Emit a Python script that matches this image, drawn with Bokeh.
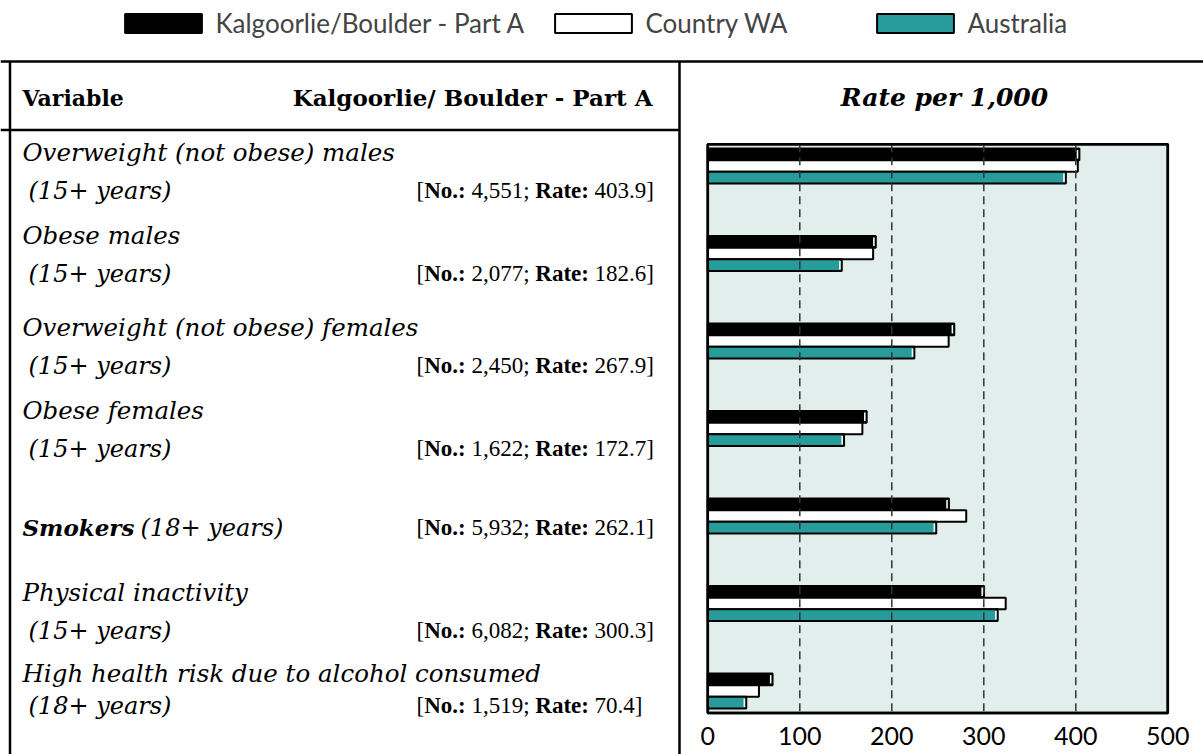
from bokeh.plotting import figure
from bokeh.models import Range1d, LinearAxis, FixedTicker, Legend, LegendItem
from bokeh.core.properties import value
from bokeh.embed import file_html
from bokeh.resources import INLINE

# ---------------- data ----------------
categories = ["Overweight (not obese) males", "Obese males",
              "Overweight (not obese) females", "Obese females",
              "Smokers", "Physical inactivity",
              "High health risk due to alcohol consumed"]
age_groups = ["(15+ years)", "(15+ years)", "(15+ years)", "(15+ years)",
              "(18+ years)", "(15+ years)", "(18+ years)"]
inline_age = [False, False, False, False, True, False, False]
numbers = ["4,551", "2,077", "2,450", "1,622", "5,932", "6,082", "1,519"]
kalgoorlie = [403.9, 182.6, 267.9, 172.7, 262.1, 300.3, 70.4]
country_wa = [402.2, 179.7, 261.8, 168.0, 280.9, 323.8, 55.6]
australia = [389.2, 145.6, 224.5, 148.1, 248.3, 315.1, 41.8]
series_names = ["Kalgoorlie/Boulder - Part A", "Country WA", "Australia"]
ticks = [0, 100, 200, 300, 400, 500]
header_variable = "Variable"
header_area = "Kalgoorlie/ Boulder - Part A"
header_rate = "Rate per 1,000"

# ---------------- styles / layout ----------------
colors = ["#000000", "#ffffff", "#279c9b"]
BG = "#e2eeeb"
SERIF = "DejaVu Serif"
W, H = 1203, 754
n = len(categories)
pad = 0.25
bh = 0.134

# pixel geometry of the bar panel
x0_px, x500_px = 707.3, 1167.3
y0_px, ystep_px = 165.5, 87.5
pxu = (x500_px - x0_px) / ticks[-1]

# text baselines of the table rows (pixels)
title_base = [152, 235, 327, 410, 527, 592, 673]
sub_base = [190, 273, 365, 448, 527, 630, 705]

p = figure(width=W, height=H, output_backend="svg", toolbar_location=None,
           x_range=Range1d(0, W), y_range=Range1d(H, 0),
           x_axis_location=None, y_axis_location=None, min_border=0,
           outline_line_color=None, background_fill_color="white",
           border_fill_color="white")
p.grid.visible = False

p.extra_x_ranges = {"rate": Range1d(-x0_px / pxu, ticks[-1] + (W - x500_px) / pxu)}
p.extra_y_ranges = {"cat": Range1d((H - y0_px) / ystep_px, -y0_px / ystep_px)}
RR = dict(x_range_name="rate", y_range_name="cat")

# plot panel background
p.quad(left=[ticks[0]], right=[ticks[-1]], top=[-pad], bottom=[n - 1 + pad],
       fill_color=BG, line_color="black", line_width=2.5, **RR)

# bars
renderers = []
for k, vals in enumerate([kalgoorlie, country_wa, australia]):
    ys = [i + (k - 1) * bh for i in range(n)]
    r = p.hbar(y=ys, left=0, right=vals, height=bh, fill_color=colors[k],
               line_color="black", line_width=2, **RR)
    renderers.append(r)
    if k != 1:
        p.hbar(y=ys, left=[v - 2.9 for v in vals], right=[v - 1.2 for v in vals],
               height=bh * 0.72, fill_color="white", line_color=None, **RR)

# dashed grid lines
p.segment(x0=ticks[1:-1], x1=ticks[1:-1], y0=-pad, y1=n - 1 + pad,
          line_color="#333333", line_width=1.5, line_dash="8 5", **RR)
# crisp outline on top
p.quad(left=[ticks[0]], right=[ticks[-1]], top=[-pad], bottom=[n - 1 + pad],
       fill_color=None, line_color="black", line_width=2.5, **RR)

# x axis
ax = LinearAxis(x_range_name="rate", y_range_name="cat", fixed_location=n - 1 + pad,
                ticker=FixedTicker(ticks=ticks))
ax.axis_line_color = None
ax.major_tick_line_color = None
ax.minor_tick_line_color = None
ax.major_tick_out = 0
ax.major_tick_in = 0
ax.major_label_standoff = 14
ax.major_label_text_font = "Lato"
ax.major_label_text_font_size = "25px"
ax.major_label_text_color = "black"
p.add_layout(ax, "below")

# table frame
p.segment(x0=[0, 9.5, 679, 0], y0=[61, 61, 61, 129.5],
          x1=[W, 9.5, 679, 679], y1=[61, H, H, 129.5],
          line_color="black", line_width=2.5)

# headers
hdr = dict(text_font=value(SERIF), text_baseline="alphabetic", text_color="black")
p.text(x=[22], y=[97], text=[header_variable], text_font_style="bold",
       text_font_size="22px", text_align="left", **hdr)
p.text(x=[652], y=[97], text=[header_area], text_font_style="bold",
       text_font_size="23px", text_align="right", **hdr)
p.text(x=[944], y=[97], text=[header_rate], text_font_style="bold italic",
       text_font_size="25px", text_align="center", **hdr)

# table rows
two_line = [i for i in range(n) if not inline_age[i]]
one_line = [i for i in range(n) if inline_age[i]]
p.text(x=[22] * len(two_line), y=[title_base[i] for i in two_line],
       text=[categories[i] for i in two_line], text_font=value(SERIF),
       text_font_size="24.5px", text_font_style="italic", text_baseline="alphabetic")
p.text(x=[28] * len(two_line), y=[sub_base[i] for i in two_line],
       text=[age_groups[i] for i in two_line], text_font=value(SERIF),
       text_font_size="24px", text_font_style="italic", text_baseline="alphabetic")
p.text(x=[22] * len(one_line), y=[title_base[i] for i in one_line],
       text=[categories[i] for i in one_line], text_font=value(SERIF),
       text_font_size="23px", text_font_style="bold italic", text_baseline="alphabetic")
p.text(x=[140] * len(one_line), y=[title_base[i] for i in one_line],
       text=[age_groups[i] for i in one_line], text_font=value(SERIF),
       text_font_size="24px", text_font_style="italic", text_baseline="alphabetic")

# bracketed counts and rates
bx = 416
piece_dx = [0, 7.7, 54.9, 118.8, 178.1]
pieces = [(["["] * n, "normal"),
          (["No.:"] * n, "bold"),
          ([f"{numbers[i]};" for i in range(n)], "normal"),
          (["Rate:"] * n, "bold"),
          ([f"{kalgoorlie[i]}]" for i in range(n)], "normal")]
for (txt, style), dx in zip(pieces, piece_dx):
    p.text(x=[bx + dx] * n, y=sub_base, text=txt, text_font=value("Liberation Serif"),
           text_font_size="23px", text_font_style=style, text_baseline="alphabetic")

# legend (one per series, laid out across the top); the swatch is drawn inset by 10%
leg_x = [115.4, 545.4, 867.4]
for r, name, lx in zip(renderers, series_names, leg_x):
    lg = Legend(items=[LegendItem(label=name, renderers=[r])], location=(lx, 715),
                orientation="horizontal", glyph_width=96, glyph_height=24,
                label_standoff=4, padding=0, margin=0, spacing=0,
                border_line_color=None, background_fill_alpha=0,
                label_text_font="Lato", label_text_font_size="26px",
                label_height=24)
    p.add_layout(lg)

open("out.html", "w").write(file_html(p, INLINE, "chart"))
